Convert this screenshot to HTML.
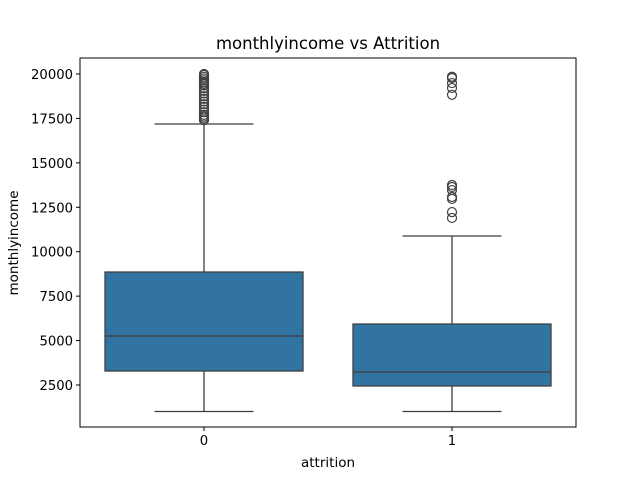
<!DOCTYPE html>
<html><head><meta charset="utf-8"><style>body{margin:0;background:#fff}svg{font-family:"DejaVu Sans","Liberation Sans",sans-serif}</style></head>
<body>
<svg id="c" width="640" height="480"></svg>
<script>
const categories=["0","1"];
const lowWhisker=[1009,1009];
const q1=[3287,2445];
const median=[5257,3230];
const q3=[8858,5932];
const highWhisker=[17187,10884];
const outliers0=[17400,17500,17600,17700,17850,18000,18150,18300,18450,18600,18750,18900,19050,19200,19350,19450,19550,19650,19750,19850,19950,19999];
const outliers1=[19845,19775,19490,19210,18830,13755,13640,13470,13080,12970,12230,11900];
const yTicks=[2500,5000,7500,10000,12500,15000,17500,20000];
const svg=document.getElementById('c');const NS='http://www.w3.org/2000/svg';
const L=80,R=576,T=58,B=427;
const y=v=>74+(20000-v)*311/17500;
const x=i=>L+(R-L)*(i+0.5)/categories.length;
function el(t,a,name){const e=document.createElementNS(NS,t);for(const k in a)e.setAttribute(k,a[k]);


svg.appendChild(e);return e;}
function txt(s,a,name){const e=el('text',a,name);e.textContent=s;return e;}
txt('monthlyincome vs Attrition',{x:328,y:49,'text-anchor':'middle','font-size':16.5},'chart-title');
el('rect',{x:L,y:T,width:R-L,height:B-T,fill:'none',stroke:'#000','stroke-width':1},'plot-frame');
yTicks.forEach(v=>{el('line',{x1:L-4,x2:L,y1:y(v),y2:y(v),stroke:'#000'},'y-tick');
txt(String(v),{x:L-7,y:y(v)+5,'text-anchor':'end','font-size':13.2},'y-tick-label');});
const half=99;
categories.forEach((c,i)=>{const cx=x(i);
el('line',{x1:cx,x2:cx,y1:y(lowWhisker[i]),y2:y(q1[i]),stroke:'#3f3f3f','stroke-width':1.3},'lower-whisker');
el('line',{x1:cx,x2:cx,y1:y(q3[i]),y2:y(highWhisker[i]),stroke:'#3f3f3f','stroke-width':1.3},'upper-whisker');
el('line',{x1:cx-half/2,x2:cx+half/2,y1:y(lowWhisker[i]),y2:y(lowWhisker[i]),stroke:'#3f3f3f','stroke-width':1.3},'lower-cap');
el('line',{x1:cx-half/2,x2:cx+half/2,y1:y(highWhisker[i]),y2:y(highWhisker[i]),stroke:'#3f3f3f','stroke-width':1.3},'upper-cap');
el('rect',{x:cx-half,y:y(q3[i]),width:half*2,height:y(q1[i])-y(q3[i]),fill:'#3274a1',stroke:'#3f3f3f','stroke-width':1.3},'box-'+c);
el('line',{x1:cx-half,x2:cx+half,y1:y(median[i]),y2:y(median[i]),stroke:'#3f3f3f','stroke-width':1.3},'median-'+c);
(i===0?outliers0:outliers1).forEach(v=>el('circle',{cx:cx,cy:y(v),r:4.5,fill:'none',stroke:'#3f3f3f','stroke-width':1.2},'outlier'));
el('line',{x1:cx,x2:cx,y1:B,y2:B+4,stroke:'#000'},'x-tick');
txt(c,{x:cx,y:B+18,'text-anchor':'middle','font-size':13.2},'x-tick-label');});
txt('attrition',{x:328,y:467,'text-anchor':'middle','font-size':13.5},'x-axis-title');
txt('monthlyincome',{x:0,y:0,'text-anchor':'middle','font-size':13.5,transform:'translate(18,243) rotate(-90)'},'y-axis-title');
</script>
</body></html>
